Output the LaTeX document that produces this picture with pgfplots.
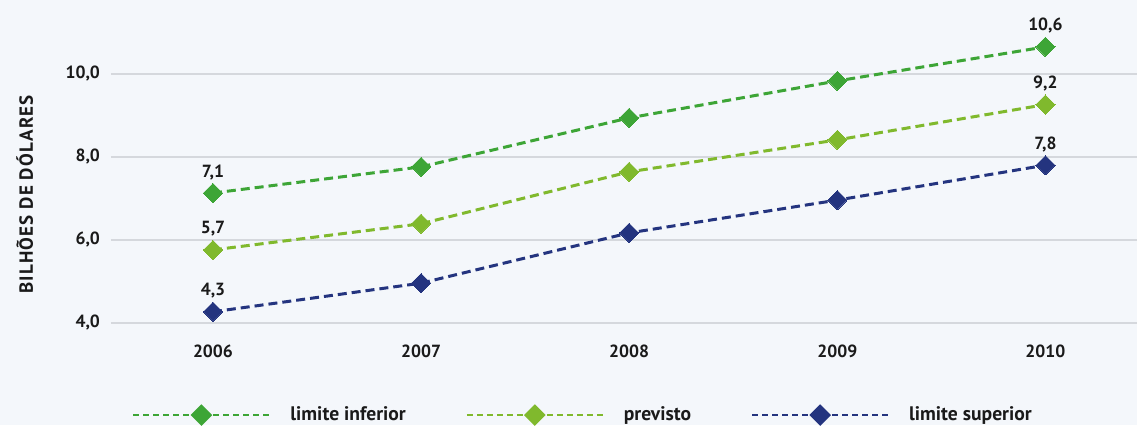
\documentclass[border=0pt]{standalone}
\usepackage{pgfplots}
\pgfplotsset{compat=1.18}
\usepackage{fontspec}
\setmainfont{PT Sans}
\definecolor{bg}{HTML}{F4F7FB}
\definecolor{gridc}{HTML}{D5D8DD}
\definecolor{verde}{HTML}{3DA536}
\definecolor{verdeclaro}{HTML}{80B92D}
\definecolor{azul}{HTML}{24347F}
\definecolor{texto}{HTML}{1A1A1A}
\newcommand{\lblfont}{\bfseries\fontsize{8.8}{10}\selectfont}
\newcommand{\legfont}{\bfseries\fontsize{9.8}{11}\selectfont}
\newcommand{\ylabfont}{\bfseries\fontsize{9.5}{11}\selectfont\addfontfeature{LetterSpace=6}}
\begin{document}
\begin{tikzpicture}
\fill[bg] (0,0) rectangle (568.5pt,212.5pt);
\begin{axis}[
    at={(55.5pt,51pt)}, anchor=south west,
    scale only axis,
    width=513pt, height=149.5pt,
    xmin=2005.51, xmax=2010.44,
    ymin=4, ymax=11.2,
    clip=false,
    axis line style={draw=none},
    tick style={draw=none},
    major tick length=0pt,
    ytick={4,6,8,10},
    xtick={2006,2007,2008,2009,2010},
    xticklabels={2006,2007,2008,2009,2010},
    ymajorgrids,
    grid style={line width=1pt, gridc},
    ticklabel style={font=\lblfont, text=texto},
    yticklabel style={xshift=-2pt, /pgf/number format/fixed, /pgf/number format/fixed zerofill,
        /pgf/number format/precision=1, /pgf/number format/use comma,
        /pgf/number format/assume math mode=true},
    xticklabel style={yshift=-7.5pt},
    ylabel={BILHÕES DE DÓLARES},
    ylabel style={at={(axis description cs:-0.084,0.43)}, anchor=center, font=\ylabfont, text=texto},
    every axis plot/.append style={line width=1.5pt, dash pattern=on 4.5pt off 2.5pt,
        mark=square*, mark size=3.4pt, mark options={solid, rotate=45, line width=0pt}},
    legend style={at={(axis description cs:0.0205,-0.308)}, anchor=west, draw=none, fill=none,
        font=\legfont, text=texto, inner sep=0pt},
    legend columns=-1,
    legend cell align=left,
    /tikz/every even column/.append style={column sep=28pt},
    /tikz/every odd column/.append style={column sep=8pt},
    legend image code/.code={
        \draw[#1, line width=1pt, dash pattern=on 3pt off 2pt] (0pt,0pt) -- (68pt,0pt);
        \draw[#1, mark size=3.6pt, mark options={solid, rotate=45, scale=0.85}] plot coordinates {(34pt,0pt)};
    },
    nodes near coords style={font=\lblfont, text=texto, anchor=base, yshift=8pt},
]
\addplot[verde] coordinates {
    (2006,7.13) (2007,7.76) (2008,8.94) (2009,9.83) (2010,10.65)
};
\addlegendentry{limite inferior}
\addplot[verdeclaro] coordinates {
    (2006,5.76) (2007,6.39) (2008,7.64) (2009,8.41) (2010,9.26)
};
\addlegendentry{previsto}
\addplot[azul] coordinates {
    (2006,4.27) (2007,4.96) (2008,6.17) (2009,6.96) (2010,7.80)
};
\addlegendentry{limite superior}
% rótulos só nas pontas
\addplot[draw=none, mark=none, forget plot, nodes near coords, point meta=explicit symbolic]
    coordinates {(2006,7.13)[{7,1}] (2010,10.65)[{10,6}]};
\addplot[draw=none, mark=none, forget plot, nodes near coords, point meta=explicit symbolic]
    coordinates {(2006,5.76)[{5,7}] (2010,9.26)[{9,2}]};
\addplot[draw=none, mark=none, forget plot, nodes near coords, point meta=explicit symbolic]
    coordinates {(2006,4.27)[{4,3}] (2010,7.80)[{7,8}]};
\end{axis}
\pgfresetboundingbox
\path (0,0) rectangle (568.5pt,212.5pt);
\end{tikzpicture}
\end{document}
